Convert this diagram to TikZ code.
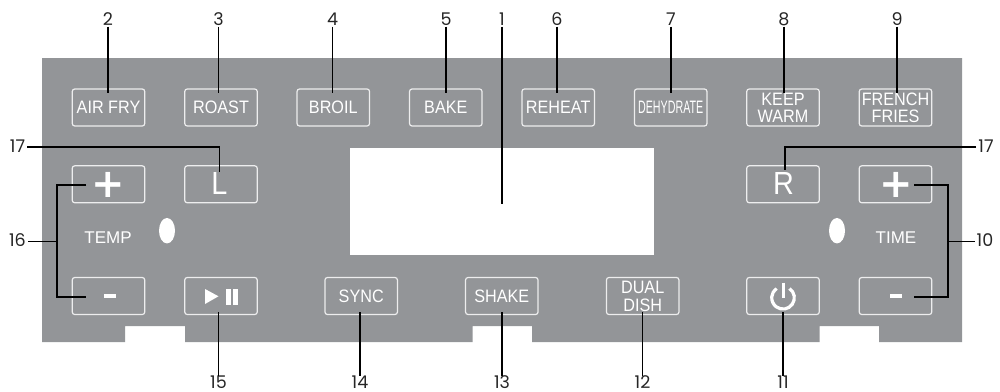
\documentclass[tikz,border=0pt]{standalone}
\usepackage{fontspec}
\setmainfont{Liberation Sans}
\newfontfamily\btnfont[FakeStretch=0.9]{Liberation Sans}
\newfontfamily\numfont{Poppins}
\newfontfamily\symfont{DejaVu Sans}
\definecolor{panel}{HTML}{939598}
\definecolor{btnline}{HTML}{EDEDEE}
\usetikzlibrary{shapes.geometric}
\tikzset{
  btn/.style={draw=btnline,line width=1.2pt,rounded corners=2.5pt,minimum width=72.5pt,minimum height=37pt,inner sep=0pt,text=white,font=\btnfont\fontsize{18}{18}\selectfont,align=center},
  two/.style={font=\btnfont\fontsize{18}{17}\selectfont},
  big/.style={font=\btnfont\fontsize{32}{32}\selectfont},
  num/.style={inner sep=0pt,font=\numfont\fontsize{17.5}{18}\selectfont,text=black!85},
  lead/.style={draw=black,line width=1.2pt},
  plain/.style={inner sep=0pt,text=white,font=\fontsize{17}{17}\selectfont},
  sym/.style={inner sep=0pt,text=white,font=\symfont\bfseries\fontsize{40}{40}\selectfont},
  lamp/.style={fill=white,draw=none,ellipse,minimum width=16pt,minimum height=25.5pt,inner sep=0pt},
  glyph/.style={fill=white,draw=none},
}
\begin{document}
\begin{tikzpicture}[x=1pt,y=-1pt]
\useasboundingbox (0,0) rectangle (1000,391);
% panel
\fill[panel] (42,58) -- (962,58) -- (962,342) -- (879,342) -- (879,326) -- (819.5,326) -- (819.5,342) -- (532,342) -- (532,326) -- (472.5,326) -- (472.5,342) -- (185,342) -- (185,326) -- (125,326) -- (125,342) -- (42,342) -- cycle;
\node[fill=white,minimum width=304pt,minimum height=107pt,inner sep=0pt] (screen) at (502,201.5) {};
% row 1
\node[btn] (airfry) at (108.5,107.5) {AIR FRY};
\node[btn] (roast) at (221,107.5) {ROAST};
\node[btn] (broil) at (333.3,107.5) {BROIL};
\node[btn] (bake) at (445.8,107.5) {BAKE};
\node[btn] (reheat) at (558.2,107.5) {REHEAT};
\node[btn] (dehyd) at (670.7,107.5) {\scalebox{0.66}[1]{DEHYDRATE}};
\node[btn,two] (keep) at (783,107.5) {KEEP\\WARM};
\node[btn,two] (french) at (895.5,107.5) {FRENCH\\FRIES};
% row 2
\node[btn] (plusL) at (108.5,184.3) {};
\node[btn] (lbtn) at (221,184.3) {};
\node[btn] (rbtn) at (783,184.3) {};
\node[btn] (plusR) at (895.5,184.3) {};
\node[inner sep=0pt,text=white,big] (ltxt) at (219.5,183.5) {L};
\node[inner sep=0pt,text=white,big] (rtxt) at (783.5,183.5) {R};
\node[sym] (plusLt) at (108.5,185) {+};
\node[sym] (plusRt) at (896,185) {+};
% middle
\node[plain] (temp) at (108,238) {TEMP};
\node[plain] (time) at (896,238) {TIME};
\node[lamp] (lampL) at (167,230.7) {};
\node[lamp] (lampR) at (837,230.7) {};
% row 3
\node[btn] (minusL) at (108.5,296) {};
\node[btn] (play) at (221,296) {};
\node[btn] (sync) at (361.2,296) {SYNC};
\node[btn] (shake) at (501.8,296) {SHAKE};
\node[btn,two] (dual) at (642.7,296) {\raisebox{1pt}{DUAL}\\DISH};
\node[btn] (power) at (783,296) {};
\node[btn] (minusR) at (895.5,296) {};
\fill[glyph] (104,294) rectangle (116,298.3);
\fill[glyph] (890,294) rectangle (902,298.3);
\fill[glyph] (205,289) -- (218.5,296.3) -- (205,304) -- cycle;
\fill[glyph] (226,288.5) rectangle (231,305);
\fill[glyph] (232.8,288.5) rectangle (237.5,305);
\draw[white,line width=3.2pt] (789.5,288.5) arc[start angle=55,end angle=-235,radius=11.3pt];
\draw[white,line width=3pt] (783,282.5) -- (783,298);
% numbers top
\node[num] (n2) at (108,19) {2};
\node[num] (n3) at (218.5,19) {3};
\node[num] (n4) at (332.5,19) {4};
\node[num] (n5) at (446,19) {5};
\node[num] (n1) at (502,19) {1};
\node[num] (n6) at (557,19) {6};
\node[num] (n7) at (671,19) {7};
\node[num] (n8) at (784,19) {8};
\node[num] (n9) at (897,19) {9};
% numbers bottom
\node[num] (n15) at (218.5,382.5) {15};
\node[num] (n14) at (360,382.5) {14};
\node[num] (n13) at (502,382.5) {13};
\node[num] (n12) at (642.5,382.5) {12};
\node[num] (n11) at (783,382.5) {11};
% numbers side
\node[num] (n17a) at (17.5,146) {17};
\node[num] (n17b) at (986,146) {17};
\node[num] (n16) at (17.5,240.5) {16};
\node[num] (n10) at (985,240.5) {10};
% connector ends
\coordinate (e1) at (502,204);
\coordinate (e17a) at (219.5,172);
\coordinate (e17b) at (785,170);
\coordinate (t16) at (86,185);
\coordinate (b16) at (86,297);
\coordinate (v16) at (57,241.5);
\coordinate (t10) at (914,185);
\coordinate (b10) at (914,297);
\coordinate (v10) at (948,241.5);
\coordinate (j17a) at (219.5,147);
\coordinate (j17b) at (785,147);
% connectors
\foreach \n in {n2,n3,n4,n5,n6,n7,n8,n9}{
  \draw[lead] (\n.north |- 0,26.5) -- (\n.north |- 0,92.5);
}
\draw[lead] (n1.north |- 0,26.5) -- (e1);
\draw[lead] (n17a.east |- 0,147) ++(2,0) -- (j17a) -- (e17a);
\draw[lead] (n17b.west |- 0,147) ++(-2,0) -- (j17b) -- (e17b);
\draw[lead] (t16) -| (v16) |- (b16);
\draw[lead] (n16.east |- v16) ++(2,0) -- (v16);
\draw[lead] (t10) -| (v10) |- (b10);
\draw[lead] (n10.west |- v10) ++(-2,0) -- (v10);
\foreach \n in {n15,n14,n13,n12,n11}{
  \draw[lead] (\n.south |- 0,312) -- (\n.south |- 0,375.5);
}
\end{tikzpicture}
\end{document}
